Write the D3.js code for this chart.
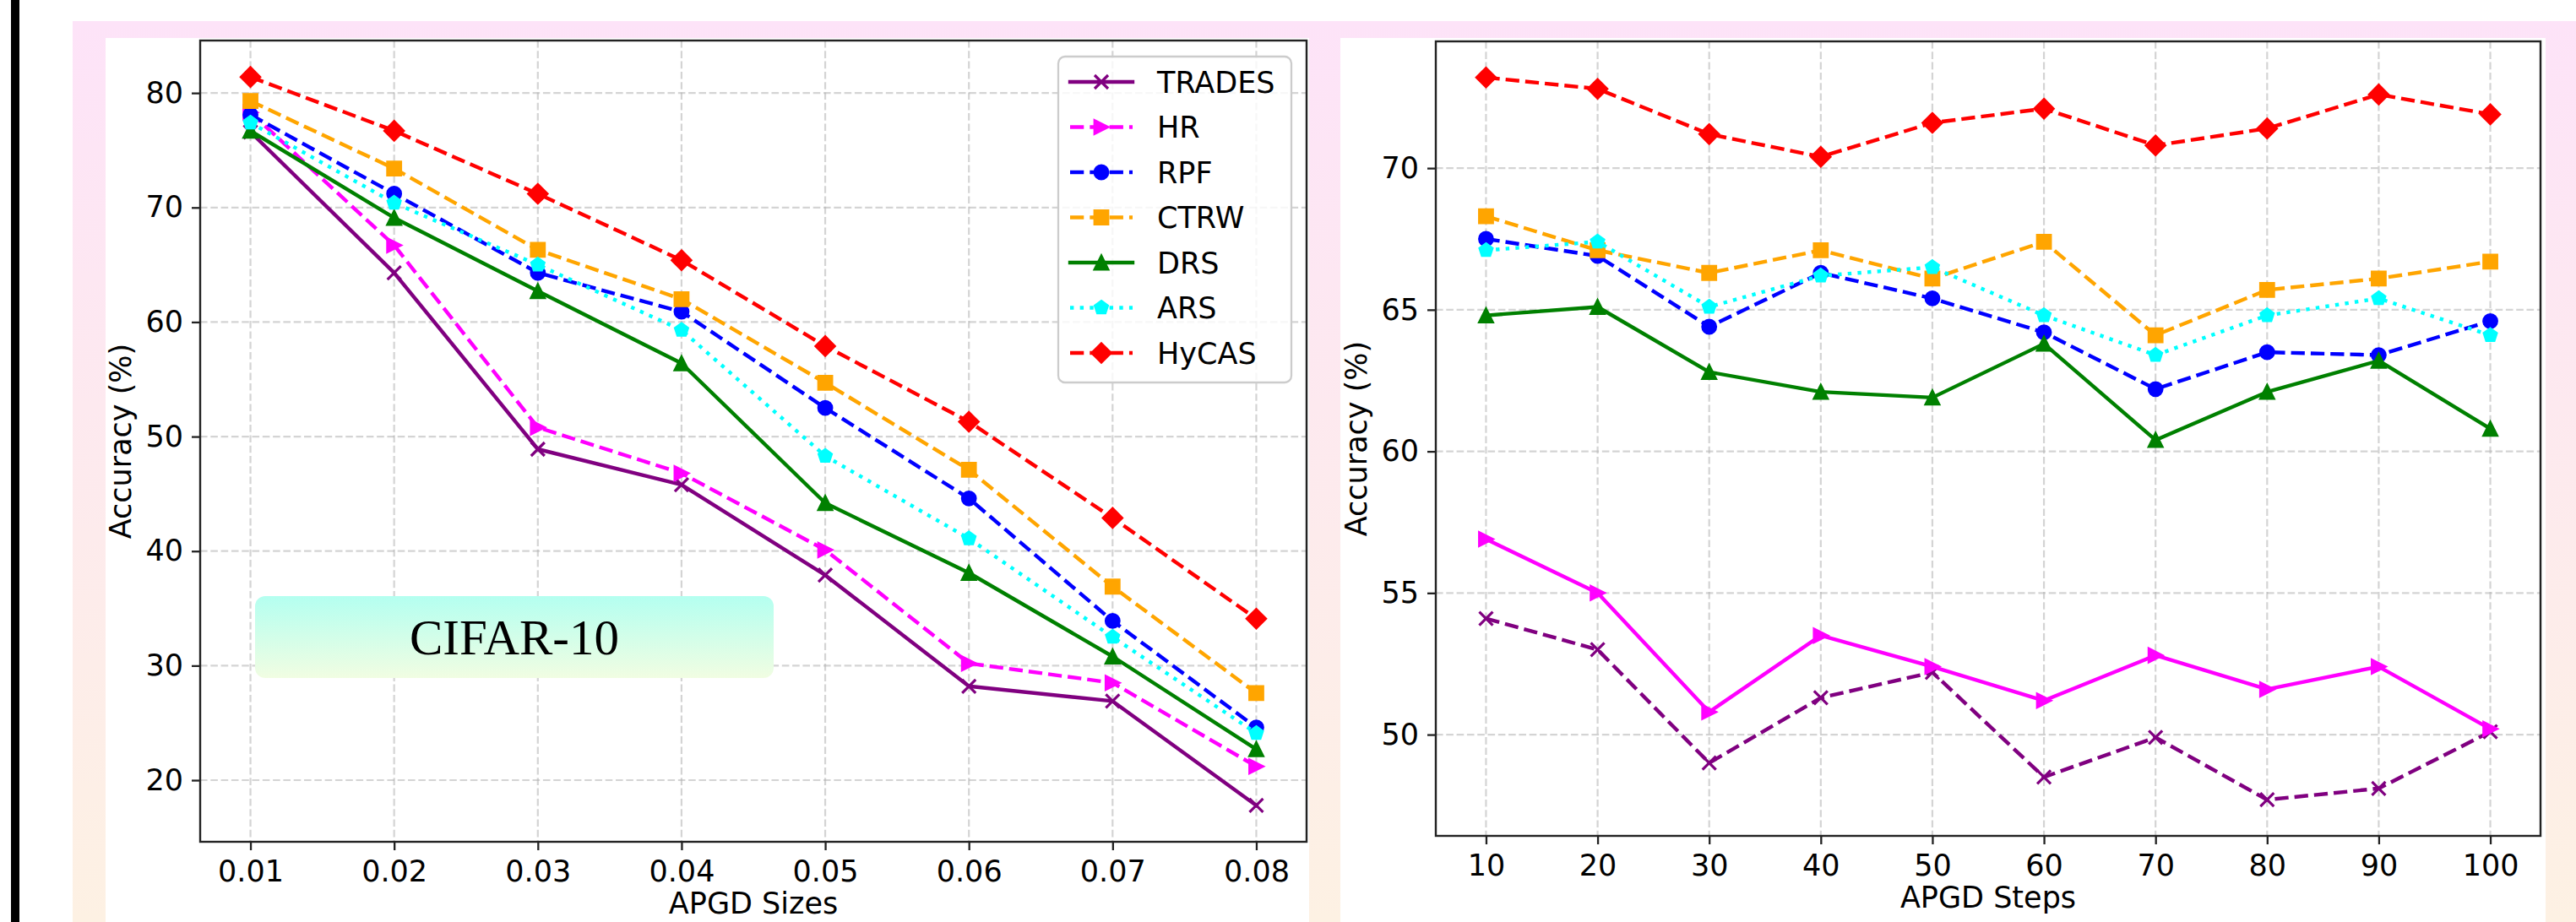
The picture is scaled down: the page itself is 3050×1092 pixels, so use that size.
<!DOCTYPE html>
<html>
<head>
<meta charset="utf-8">
<script src="https://cdn.jsdelivr.net/npm/d3@7"></script>
<style>
  body { margin: 0; background: #fff; }
  svg { display: block; }
  text { font-family: 'DejaVu Sans', sans-serif; fill: #000; }
</style>
</head>
<body>
<svg id="chart" width="3050" height="1092"></svg>
<script>
// methods, in plotting order (last one is drawn on top)
const methods = ['TRADES', 'HR', 'RPF', 'CTRW', 'DRS', 'ARS', 'HyCAS'];
const colors = ['purple', '#ff00ff', 'blue', 'orange', 'green', 'cyan', 'red'];
const markers = ['x', '>', 'o', 's', '^', 'p', 'D'];

// left panel: accuracy vs APGD step size
const apgdSizes = [0.01, 0.02, 0.03, 0.04, 0.05, 0.06, 0.07, 0.08];
const sizeTRADES = [76.6, 64.3, 48.9, 45.8, 37.9, 28.2, 26.9, 17.8];
const sizeHR = [78.3, 66.7, 50.8, 46.8, 40.1, 30.2, 28.5, 21.2];
const sizeRPF = [78.1, 71.2, 64.3, 60.9, 52.5, 44.6, 33.9, 24.6];
const sizeCTRW = [79.3, 73.4, 66.3, 62.0, 54.7, 47.1, 36.9, 27.6];
const sizeDRS = [76.7, 69.1, 62.7, 56.4, 44.2, 38.1, 30.8, 22.7];
const sizeARS = [77.4, 70.4, 65.0, 59.3, 48.3, 41.1, 32.5, 24.1];
const sizeHyCAS = [81.4, 76.7, 71.2, 65.4, 57.9, 51.3, 42.9, 34.1];
const sizeStyles = ['solid', 'dashed', 'dashed', 'dashed', 'solid', 'dotted', 'dashed'];
const sizeYTicks = [20, 30, 40, 50, 60, 70, 80];

// right panel: accuracy vs number of APGD steps
const apgdSteps = [10, 20, 30, 40, 50, 60, 70, 80, 90, 100];
const stepTRADES = [54.1, 53.0, 49.0, 51.3, 52.2, 48.5, 49.9, 47.7, 48.1, 50.1];
const stepHR = [56.9, 55.0, 50.8, 53.5, 52.4, 51.2, 52.8, 51.6, 52.4, 50.2];
const stepRPF = [67.5, 66.9, 64.4, 66.3, 65.4, 64.2, 62.2, 63.5, 63.4, 64.6];
const stepCTRW = [68.3, 67.1, 66.3, 67.1, 66.1, 67.4, 64.1, 65.7, 66.1, 66.7];
const stepDRS = [64.8, 65.1, 62.8, 62.1, 61.9, 63.8, 60.4, 62.1, 63.2, 60.8];
const stepARS = [67.1, 67.4, 65.1, 66.2, 66.5, 64.8, 63.4, 64.8, 65.4, 64.1];
const stepHyCAS = [73.2, 72.8, 71.2, 70.4, 71.6, 72.1, 70.8, 71.4, 72.6, 71.9];
const stepStyles = ['dashed', 'solid', 'dashed', 'dashed', 'solid', 'dotted', 'dashed'];
const stepYTicks = [50, 55, 60, 65, 70];

const LW = 4.4;
const MS = 16;
const FONT = 35;

const svg = d3.select('#chart');
const defs = svg.append('defs');

const frameGrad = defs.append('linearGradient')
  .attr('id', 'frameGrad')
  .attr('x1', 0).attr('y1', 0).attr('x2', 0).attr('y2', 1);
frameGrad.append('stop').attr('offset', '0%').attr('stop-color', '#fde3f8');
frameGrad.append('stop').attr('offset', '100%').attr('stop-color', '#fdf1e3');

const boxGrad = defs.append('linearGradient')
  .attr('id', 'boxGrad')
  .attr('x1', 0).attr('y1', 0).attr('x2', 0).attr('y2', 1);
boxGrad.append('stop').attr('offset', '0%').attr('stop-color', '#b4fff0');
boxGrad.append('stop').attr('offset', '100%').attr('stop-color', '#f1fde2');

// page decoration: black bar and pink frame around the two white panels
svg.append('rect').attr('x', 13).attr('y', 0).attr('width', 10).attr('height', 1092).attr('fill', '#000');
svg.append('rect').attr('x', 86).attr('y', 25).attr('width', 2964).attr('height', 1067)
  .attr('fill', 'url(#frameGrad)');
svg.append('rect').attr('x', 125).attr('y', 45).attr('width', 1425).attr('height', 1047).attr('fill', '#fff');
svg.append('rect').attr('x', 1587).attr('y', 45).attr('width', 1427).attr('height', 1047).attr('fill', '#fff');

// matplotlib-like marker shapes, centred on 0,0
function markerPath(type, ms) {
  const h = ms / 2;
  if (type === 'o') return `M${h},0A${h},${h} 0 1,1 ${-h},0A${h},${h} 0 1,1 ${h},0Z`;
  if (type === 's') return `M${-h},${-h}H${h}V${h}H${-h}Z`;
  if (type === 'D') {
    const d = h * Math.SQRT2;
    return `M0,${-d}L${d},0L0,${d}L${-d},0Z`;
  }
  if (type === '^') return `M0,${-h}L${h},${h}L${-h},${h}Z`;
  if (type === '>') return `M${h},0L${-h},${-h}L${-h},${h}Z`;
  if (type === 'x') return `M${-h},${-h}L${h},${h}M${-h},${h}L${h},${-h}`;
  // pentagon
  const pts = d3.range(5).map((k) => {
    const a = -Math.PI / 2 + (k * 2 * Math.PI) / 5;
    return [h * Math.cos(a), h * Math.sin(a)];
  });
  return `M${pts.map((p) => p.join(',')).join('L')}Z`;
}

function dashFor(style) {
  if (style === 'dashed') return `${3.7 * LW},${1.6 * LW}`;
  if (style === 'dotted') return `${1 * LW},${1.65 * LW}`;
  return null;
}

function drawMarker(sel, type, color) {
  sel.attr('d', markerPath(type, MS))
    .attr('fill', type === 'x' ? 'none' : color)
    .attr('stroke', color)
    .attr('stroke-width', type === 'x' ? 3.2 : 2.8)
    .attr('stroke-linejoin', 'miter');
}

// 5% margins like matplotlib autoscale
function padded(ext) {
  const m = (ext[1] - ext[0]) * 0.05;
  return [ext[0] - m, ext[1] + m];
}

function drawPanel(cfg) {
  const g = svg.append('g');
  const x = d3.scaleLinear().domain(padded(d3.extent(cfg.xs))).range([cfg.left, cfg.right]);
  const y = d3.scaleLinear().domain(padded(d3.extent(cfg.values.flat()))).range([cfg.bottom, cfg.top]);

  // grid
  const grid = g.append('g')
    .attr('stroke', '#b0b0b0')
    .attr('stroke-opacity', 0.55)
    .attr('stroke-width', 2.2)
    .attr('stroke-dasharray', '8.6,3.7');
  grid.selectAll('.gx').data(cfg.xs).join('line')
    .attr('x1', (d) => x(d)).attr('x2', (d) => x(d))
    .attr('y1', cfg.top).attr('y2', cfg.bottom);
  grid.selectAll('.gy').data(cfg.yTicks).join('line')
    .attr('y1', (d) => y(d)).attr('y2', (d) => y(d))
    .attr('x1', cfg.left).attr('x2', cfg.right);

  // axes
  const xAxis = g.append('g')
    .attr('transform', `translate(0,${cfg.bottom})`)
    .call(d3.axisBottom(x).tickValues(cfg.xs).tickFormat(cfg.xFormat).tickSize(10).tickPadding(12));
  const yAxis = g.append('g')
    .attr('transform', `translate(${cfg.left},0)`)
    .call(d3.axisLeft(y).tickValues(cfg.yTicks).tickSize(10).tickPadding(10));
  [xAxis, yAxis].forEach((ax) => {
    ax.select('.domain').remove();
    ax.selectAll('line').attr('stroke', '#222').attr('stroke-width', 2.3);
    ax.selectAll('text')
      .attr('font-size', FONT)
      .attr('font-family', "'DejaVu Sans', sans-serif")
      .attr('fill', '#000');
  });

  g.append('text')
    .attr('x', (cfg.left + cfg.right) / 2)
    .attr('y', cfg.bottom + 85)
    .attr('text-anchor', 'middle')
    .attr('font-size', FONT)
    .text(cfg.xLabel);
  g.append('text')
    .attr('transform', `translate(${cfg.left - 82},${(cfg.top + cfg.bottom) / 2}) rotate(-90)`)
    .attr('text-anchor', 'middle')
    .attr('font-size', FONT)
    .text('Accuracy (%)');

  // series
  cfg.values.forEach((vals, i) => {
    const line = d3.line()
      .x((d, j) => x(cfg.xs[j]))
      .y((d) => y(d));
    g.append('path')
      .datum(vals)
      .attr('d', line)
      .attr('fill', 'none')
      .attr('stroke', colors[i])
      .attr('stroke-width', LW)
      .attr('stroke-linejoin', 'round')
      .attr('stroke-linecap', cfg.styles[i] === 'solid' ? 'square' : 'butt')
      .attr('stroke-dasharray', dashFor(cfg.styles[i]));
    g.append('g').selectAll('path')
      .data(vals)
      .join('path')
      .attr('transform', (d, j) => `translate(${x(cfg.xs[j])},${y(d)})`)
      .call(drawMarker, markers[i], colors[i]);
  });

  // frame
  g.append('rect')
    .attr('x', cfg.left).attr('y', cfg.top)
    .attr('width', cfg.right - cfg.left).attr('height', cfg.bottom - cfg.top)
    .attr('fill', 'none')
    .attr('stroke', '#222')
    .attr('stroke-width', 2.4);
  return g;
}

const leftPanel = drawPanel({
  left: 237, right: 1547, top: 48, bottom: 997,
  xs: apgdSizes,
  values: [sizeTRADES, sizeHR, sizeRPF, sizeCTRW, sizeDRS, sizeARS, sizeHyCAS],
  styles: sizeStyles,
  yTicks: sizeYTicks,
  xFormat: d3.format('.2f'),
  xLabel: 'APGD Sizes',
});

drawPanel({
  left: 1700, right: 3008, top: 49, bottom: 990,
  xs: apgdSteps,
  values: [stepTRADES, stepHR, stepRPF, stepCTRW, stepDRS, stepARS, stepHyCAS],
  styles: stepStyles,
  yTicks: stepYTicks,
  xFormat: (d) => d,
  xLabel: 'APGD Steps',
});

// legend in upper right of the left panel
const legend = leftPanel.append('g').attr('transform', 'translate(1253,67)');
legend.append('rect')
  .attr('width', 276).attr('height', 386)
  .attr('rx', 8)
  .attr('fill', '#fff').attr('fill-opacity', 0.8)
  .attr('stroke', '#cccccc').attr('stroke-width', 2.3);
methods.forEach((name, i) => {
  const row = legend.append('g').attr('transform', `translate(0,${30 + 53.5 * i})`);
  row.append('line')
    .attr('x1', 14).attr('x2', 88)
    .attr('stroke', colors[i])
    .attr('stroke-width', LW)
    .attr('stroke-linecap', sizeStyles[i] === 'solid' ? 'square' : 'butt')
    .attr('stroke-dasharray', dashFor(sizeStyles[i]));
  row.append('path')
    .attr('transform', 'translate(51,0)')
    .call(drawMarker, markers[i], colors[i]);
  row.append('text')
    .attr('x', 117)
    .attr('dy', '0.36em')
    .attr('font-size', FONT)
    .text(name);
});

// dataset tag
const tag = leftPanel.append('g').attr('transform', 'translate(302,706)');
tag.append('rect')
  .attr('width', 614).attr('height', 97)
  .attr('rx', 12)
  .attr('fill', 'url(#boxGrad)');
tag.append('text')
  .attr('x', 307).attr('y', 69)
  .attr('text-anchor', 'middle')
  .style('font-family', "'Liberation Serif', 'Times New Roman', serif")
  .attr('font-size', 59)
  .text('CIFAR-10');
</script>
</body>
</html>
